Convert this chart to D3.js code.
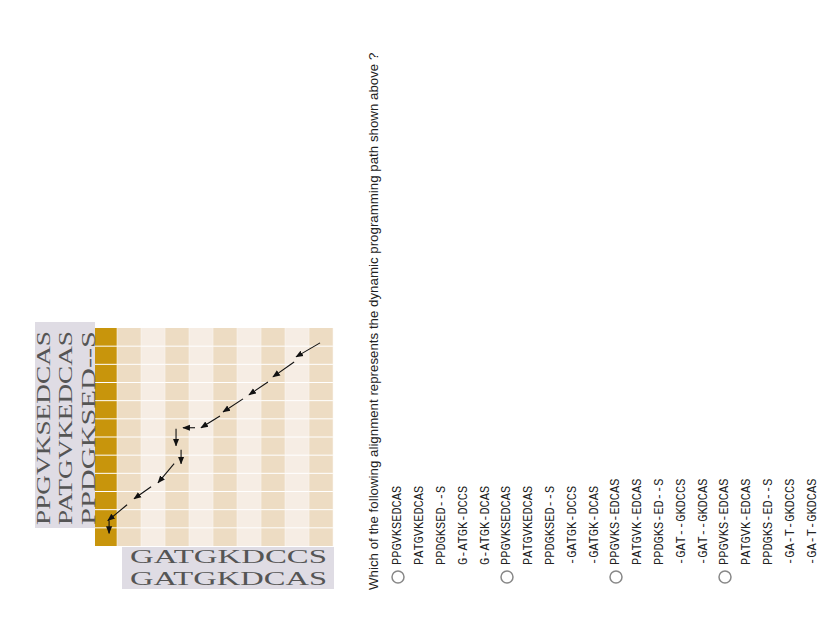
<!DOCTYPE html><html><head><meta charset="utf-8"><script src="https://cdn.jsdelivr.net/npm/d3@7"></script>
<style>body{margin:0;background:#fff}</style></head><body><svg id="c" width="828" height="638"></svg>
<script>
const rowSeqs = ["PPGVKSEDCAS","PATGVKEDCAS","PPDGKSED--S"];
const colSeqs = ["GATGKDCCS","GATGKDCAS"];
const question = "Which of the following alignment represents the dynamic programming path shown above ?";
const options = [
 ["PPGVKSEDCAS","PATGVKEDCAS","PPDGKSED--S","G-ATGK-DCCS","G-ATGK-DCAS"],
 ["PPGVKSEDCAS","PATGVKEDCAS","PPDGKSED--S","-GATGK-DCCS","-GATGK-DCAS"],
 ["PPGVKS-EDCAS","PATGVK-EDCAS","PPDGKS-ED--S","-GAT--GKDCCS","-GAT--GKDCAS"],
 ["PPGVKS-EDCAS","PATGVK-EDCAS","PPDGKS-ED--S","-GA-T-GKDCCS","-GA-T-GKDCAS"]];
const nCols = 9, nRows = 12;
// arrow path steps in grid units [col0,row0,col1,row1]
const arrows = [[8.46,0.82,7.46,1.59],[7.38,1.87,6.5,2.69],[6.29,2.97,5.5,3.68],[5.25,3.9,4.42,4.62],
 [4.29,4.84,3.5,5.49],[3.25,5.49,2.75,5.49],[2.46,5.55,2.46,6.48],[2.67,6.7,2.67,7.47],
 [2.38,7.47,1.71,8.52],[1.42,8.74,0.71,9.4],[0.42,9.73,-0.38,10.6],[-0.33,10.6,-0.33,11.3]];

const svg = d3.select("#c");
const x = d3.scaleLinear().domain([0,nCols]).range([117,333]);
const y = d3.scaleLinear().domain([0,nRows]).range([328,546]);
svg.append("defs").append("marker").attr("id","ah").attr("viewBox","0 0 10 10").attr("refX",9).attr("refY",5)
 .attr("markerWidth",7).attr("markerHeight",7).attr("orient","auto")
 .append("path").attr("d","M0,1L10,5L0,9Z").attr("fill","#111");
svg.append("rect").attr("x",95).attr("y",y(0)).attr("width",x(0)-95).attr("height",y(nRows)-y(0)).attr("fill","#c8950c");
svg.selectAll(".col").data(d3.range(nCols)).join("rect").attr("x",d=>x(d)).attr("y",y(0))
 .attr("width",x(1)-x(0)).attr("height",y(nRows)-y(0)).attr("fill",d=>d%2?"#f6ede4":"#eddcc3");
svg.selectAll(".hl").data(d3.range(1,nRows)).join("line").attr("x1",95).attr("x2",x(nCols))
 .attr("y1",d=>y(d)).attr("y2",d=>y(d)).attr("stroke","#fff").attr("stroke-width",1);
svg.selectAll(".vl").data(d3.range(0,nCols+1)).join("line").attr("x1",d=>x(d)).attr("x2",d=>x(d))
 .attr("y1",y(0)).attr("y2",y(nRows)).attr("stroke","#fbf6f0").attr("stroke-width",0.6);
svg.selectAll(".ar").data(arrows).join("line").attr("x1",d=>x(d[0])).attr("y1",d=>y(d[1]))
 .attr("x2",d=>x(d[2])).attr("y2",d=>y(d[3])).attr("stroke","#111").attr("stroke-width",1.1).attr("marker-end","url(#ah)");
svg.append("rect").attr("x",35).attr("y",322).attr("width",60).attr("height",206).attr("fill","#dfdce4");
svg.append("rect").attr("x",122).attr("y",547).attr("width",212).attr("height",42).attr("fill","#dfdce4");
rowSeqs.forEach((s,i)=>{
 svg.append("text").attr("transform",`translate(${43+i*22.5},525) rotate(-90)`).attr("dy","0.36em")
  .attr("font-family","Liberation Serif").attr("font-size",19).attr("fill","#555")
  .attr("textLength",194).attr("lengthAdjust","spacingAndGlyphs").text(s);
});
colSeqs.forEach((s,i)=>{
 svg.append("text").attr("x",130).attr("y",563+i*22).attr("font-family","Liberation Serif").attr("font-size",19)
  .attr("fill","#555").attr("textLength",197).attr("lengthAdjust","spacingAndGlyphs").text(s);
});
svg.append("text").attr("transform","translate(373,590) rotate(-90)").attr("dy","0.36em")
 .attr("font-family","Liberation Sans, Arial").attr("font-size",13.3).attr("fill","#222").text(question);
const step = 21.8;
options.forEach((opt,k)=>{
 const base = 397 + k*5*step;
 svg.append("circle").attr("cx",base+1).attr("cy",577).attr("r",6).attr("fill","#fff").attr("stroke","#888").attr("stroke-width",1.5);
 opt.forEach((line,j)=>{
  svg.append("text").attr("transform",`translate(${base+j*step},565) rotate(-90)`).attr("dy","0.36em")
   .attr("font-family","Liberation Mono, Courier New, monospace").attr("font-size",12).attr("fill","#222").text(line);
 });
});
</script></body></html>
